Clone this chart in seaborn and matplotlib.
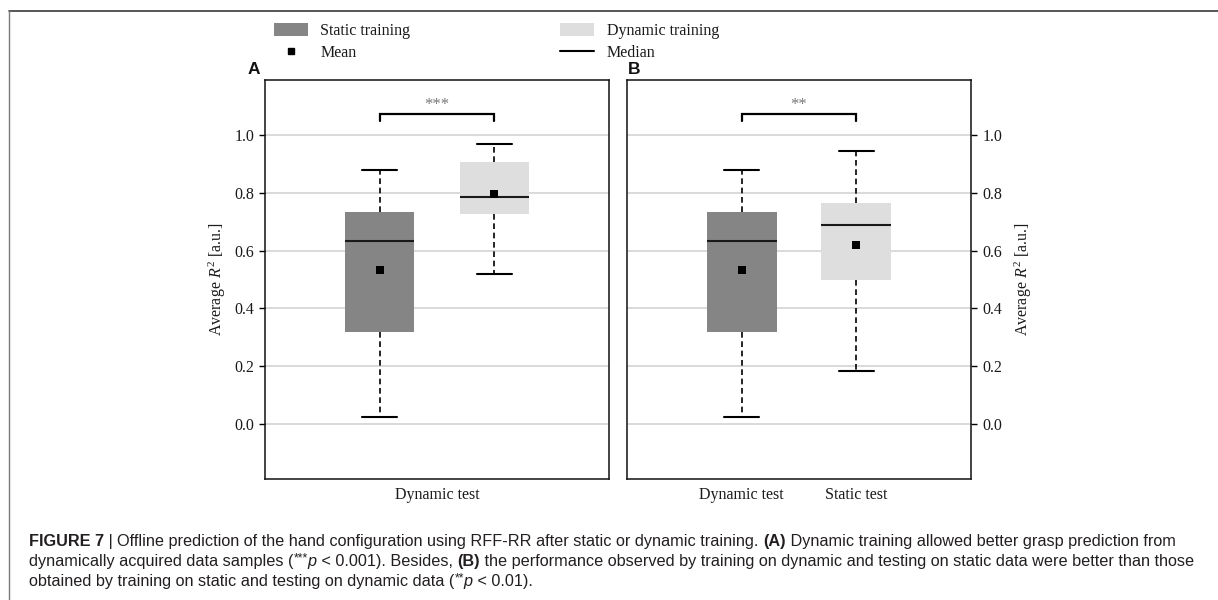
import numpy as np
import pandas as pd
import matplotlib
matplotlib.use("Agg")
import matplotlib.pyplot as plt
import seaborn as sns
from matplotlib import font_manager
from matplotlib.patches import Patch
from matplotlib.lines import Line2D

# ---------------------------------------------------------------- data
training_levels = ["Static training", "Dynamic training"]
test_levels = ["Dynamic test", "Static test"]

# five-number summaries of the average R^2: whisker low, Q1, median, Q3, whisker high
static_train_dynamic_test = [0.024, 0.319, 0.634, 0.734, 0.880]
dynamic_train_dynamic_test = [0.520, 0.728, 0.787, 0.907, 0.970]
dynamic_train_static_test = [0.185, 0.499, 0.690, 0.763, 0.944]

# group means
mean_static_train_dynamic_test = 0.533
mean_dynamic_train_dynamic_test = 0.797
mean_dynamic_train_static_test = 0.621

y_ticks = [0.0, 0.2, 0.4, 0.6, 0.8, 1.0]
sig_a = "***"
sig_b = "**"

# ---------------------------------------------------------------- style
sns.set_theme(style="white")
plt.rcParams["font.family"] = ["Liberation Serif", "DejaVu Serif"]
plt.rcParams["mathtext.fontset"] = "custom"
plt.rcParams["mathtext.rm"] = "Liberation Serif"
plt.rcParams["mathtext.it"] = "Liberation Serif:italic"
plt.rcParams["mathtext.bf"] = "Liberation Serif:bold"

W, H = 1218, 600
dark_gray = "#858585"
light_gray = "#dedede"
palette = {"Static training": dark_gray, "Dynamic training": light_gray}
black_palette = {k: "black" for k in training_levels}
text_color = "#1a1a1a"


def long_form(groups):
    rows = []
    for test, training, values in groups:
        for v in values:
            rows.append({"test": test, "training": training, "r2": v})
    return pd.DataFrame(rows)


box_a = long_form([
    ("Dynamic test", "Static training", static_train_dynamic_test),
    ("Dynamic test", "Dynamic training", dynamic_train_dynamic_test),
])
box_b = long_form([
    ("Dynamic test", "Static training", static_train_dynamic_test),
    ("Static test", "Dynamic training", dynamic_train_static_test),
])
mean_a = pd.DataFrame({
    "test": ["Dynamic test", "Dynamic test"],
    "training": training_levels,
    "r2": [mean_static_train_dynamic_test, mean_dynamic_train_dynamic_test],
})
mean_b = pd.DataFrame({
    "test": test_levels,
    "training": training_levels,
    "r2": [mean_static_train_dynamic_test, mean_dynamic_train_static_test],
})

fig = plt.figure(figsize=(W / 100, H / 100), dpi=100)
fig.patch.set_facecolor("white")
ax_a = fig.add_axes([265 / W, 121 / H, 344 / W, 399 / H])
ax_b = fig.add_axes([627 / W, 121 / H, 344 / W, 399 / H])

box_style = dict(
    whis=(0, 100), showfliers=False, saturation=1, linecolor="black",
    linewidth=1.2, legend=False,
    boxprops=dict(edgecolor="none"),
    whiskerprops=dict(linestyle=(0, (3.4, 2.2)), linewidth=1.2),
    capprops=dict(linewidth=1.5),
    medianprops=dict(color="#1a1a1a", linewidth=1.5),
)
mean_style = dict(marker="s", size=5.6, jitter=False, linewidth=0,
                  palette=black_palette, legend=False, zorder=6)

# panel A: both trainings evaluated on the dynamic test set
sns.boxplot(data=box_a, x="test", y="r2", hue="training", order=["Dynamic test"],
            hue_order=training_levels, palette=palette, width=0.8, gap=0.4,
            dodge=True, ax=ax_a, **box_style)
sns.stripplot(data=mean_a, x="test", y="r2", hue="training", order=["Dynamic test"],
              hue_order=training_levels, dodge=True, ax=ax_a, **mean_style)

# panel B: each training evaluated on the opposite condition
sns.boxplot(data=box_b, x="test", y="r2", hue="training", order=test_levels,
            hue_order=training_levels, palette=palette, width=0.61,
            dodge=False, ax=ax_b, **box_style)
sns.stripplot(data=mean_b, x="test", y="r2", hue="training", order=test_levels,
              hue_order=training_levels, dodge=False, ax=ax_b, **mean_style)

ax_a.set_xlim(-0.6, 0.6)
ax_b.set_xlim(-1.0, 2.0)

ylabel = "Average $R^2$ [a.u.]"
for ax in (ax_a, ax_b):
    ax.set_ylim(-0.19, 1.19)
    ax.set_yticks(y_ticks)
    ax.set_yticklabels([f"{t:.1f}" for t in y_ticks])
    ax.yaxis.grid(True, color="#cfcfcf", linewidth=1.1)
    ax.xaxis.grid(False)
    ax.set_axisbelow(True)
    for s in ax.spines.values():
        s.set_color("#111111")
        s.set_linewidth(1.1)
    ax.set_xlabel("")
    ax.tick_params(axis="x", bottom=False, length=0, pad=6, labelsize=11.5,
                   labelcolor=text_color)
    ax.set_ylabel(ylabel, fontsize=11.5, color=text_color)

ax_a.tick_params(axis="y", left=True, right=False, direction="out", length=4.5,
                 width=1.0, color="black", pad=3, labelsize=11.5, labelcolor=text_color)
ax_a.yaxis.labelpad = 5

ax_b.yaxis.tick_right()
ax_b.yaxis.set_label_position("right")
ax_b.tick_params(axis="y", left=False, right=True, labelleft=False, labelright=True,
                 direction="out", length=4.5, width=1.0, color="black", pad=4,
                 labelsize=11.5, labelcolor=text_color)
ax_b.yaxis.labelpad = 7

# significance brackets between the compared boxes
def bracket(ax, x0, x1, label):
    ax.plot([x0, x0, x1, x1], [1.047, 1.071, 1.071, 1.047], color="black",
            linewidth=1.6, solid_joinstyle="miter", zorder=5)
    ax.text((x0 + x1) / 2, 1.103, label, ha="center", va="center",
            fontsize=12, color="#777777")

half_offset = 0.8 / 4
bracket(ax_a, -half_offset, half_offset, sig_a)
bracket(ax_b, 0, 1, sig_b)

# panel letters
for letter, xpx in (("A", 248), ("B", 628)):
    fig.text(xpx / W, 1 - 70 / H, letter, ha="left", va="center",
             fontsize=12.5, fontweight="bold", family="Liberation Sans",
             color="#111111")

# legend
handles = [
    Patch(facecolor=dark_gray, edgecolor="none"),
    Line2D([], [], marker="s", color="black", linestyle="none", markersize=5),
    Patch(facecolor=light_gray, edgecolor="none"),
    Line2D([], [], color="black", linewidth=1.5),
]
labels = ["Static training", "Mean", "Dynamic training", "Median"]
fig.legend(handles, labels, loc="upper left", bbox_to_anchor=(274 / W, 1 - 23 / H),
           ncol=2, frameon=False, fontsize=11.5, handlelength=2.1,
           handleheight=0.8, handletextpad=0.8, columnspacing=9.4,
           labelspacing=0.35, borderpad=0, borderaxespad=0,
           labelcolor=text_color)

# page frame (top and left rules)
fig.add_artist(Line2D([9 / W, 1], [1 - 11 / H, 1 - 11 / H], transform=fig.transFigure,
                      color="#3a3a3a", linewidth=1.2))
fig.add_artist(Line2D([9 / W, 9 / W], [0, 1 - 11 / H], transform=fig.transFigure,
                      color="#7a7a7a", linewidth=1.0))

# caption
available = {f.name for f in font_manager.fontManager.ttflist}
caption_family = ("Liberation Sans Narrow" if "Liberation Sans Narrow" in available
                  else "Liberation Sans")
caption_color = "#231f20"

caption_lines = [
    [("FIGURE 7", "bold"), (" | ", "regular"),
     ("Offline prediction of the hand configuration using RFF-RR after static or dynamic training. ", "regular"),
     ("(A)", "bold"), (" Dynamic training allowed better grasp prediction from", "regular")],
    [("dynamically acquired data samples (", "regular"), ("***", "sup"), ("p", "italic"),
     (" < 0.001). Besides, ", "regular"), ("(B)", "bold"),
     (" the performance observed by training on dynamic and testing on static data were better than those", "regular")],
    [("obtained by training on static and testing on dynamic data (", "regular"),
     ("**", "sup"), ("p", "italic"), (" < 0.01).", "regular")],
]
baselines = [546, 566, 586]
renderer = fig.canvas.get_renderer()


def run_props(kind, size):
    props = dict(family=caption_family, color=caption_color, fontsize=size,
                 va="baseline", ha="left")
    if kind == "bold":
        props["fontweight"] = "bold"
    elif kind == "italic":
        props["fontstyle"] = "italic"
    elif kind == "sup":
        props["fontsize"] = size * 0.75
    return props


def run_width(text, props):
    probe = fig.text(0, 0, text + "|", **props)
    bar = fig.text(0, 0, "|", **props)
    w = probe.get_window_extent(renderer).width - bar.get_window_extent(renderer).width
    probe.remove()
    bar.remove()
    return w


def line_width(runs, size):
    return sum(run_width(t, run_props(k, size)) for t, k in runs)


ref_size = 10.0
caption_size = ref_size * (1197 - 29) / line_width(caption_lines[1], ref_size)

for runs, base in zip(caption_lines, baselines):
    x = 29.0
    for text, kind in runs:
        props = run_props(kind, caption_size)
        lift = caption_size * 100 / 72 * 0.3 if kind == "sup" else 0
        fig.text(x / W, 1 - (base - lift) / H, text, **props)
        x += run_width(text, props)

fig.savefig("out.png", dpi=100)
